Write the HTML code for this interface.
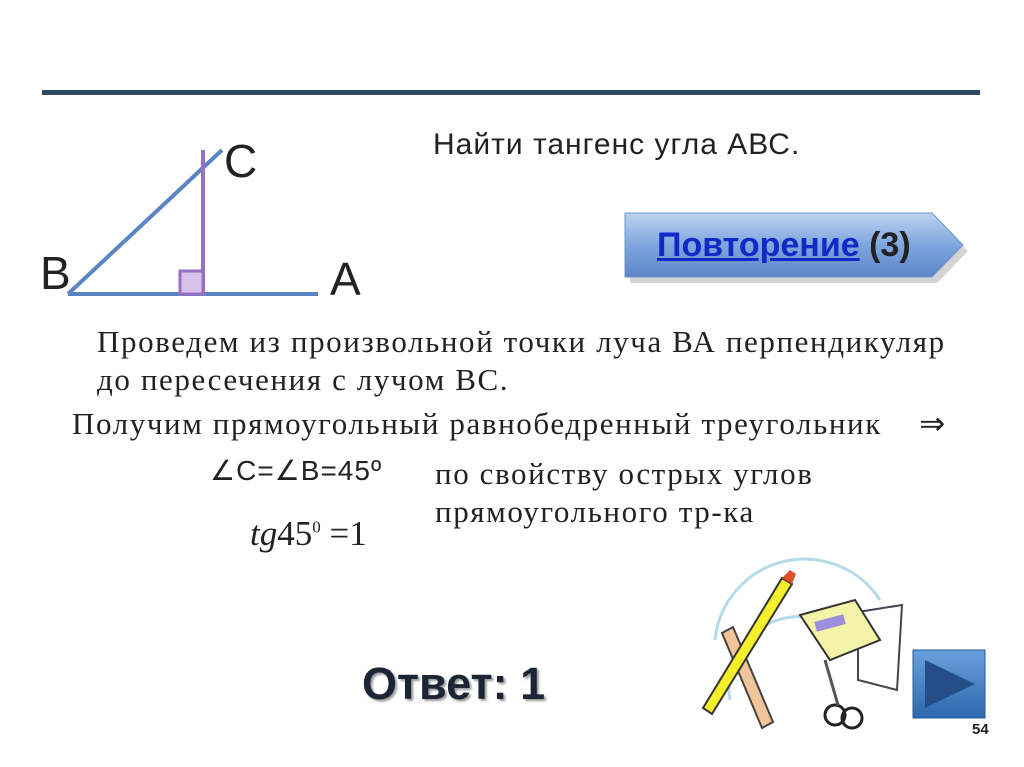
<!DOCTYPE html>
<html><head><meta charset="utf-8"><style>
body{margin:0;width:1024px;height:767px;background:#fff;position:relative;overflow:hidden;font-family:"Liberation Sans",sans-serif}
.a{position:absolute;white-space:nowrap}
.s{font-family:"Liberation Serif",serif;font-size:31px;letter-spacing:1.6px;color:#222}
</style></head><body>
<div class="a" style="left:42px;top:90px;width:938px;height:5px;background:#2f4866"></div>
<svg class="a" style="left:0;top:0" width="1024" height="767">
<line x1="68" y1="294" x2="222" y2="150" stroke="#5b84c4" stroke-width="4"/>
<line x1="68" y1="294" x2="318" y2="294" stroke="#5b84c4" stroke-width="4"/>
<line x1="203" y1="150" x2="203" y2="294" stroke="#9a6fc0" stroke-width="4"/>
<rect x="180" y="271" width="23" height="23" fill="#d5c3ea" stroke="#9a6fc0" stroke-width="3"/>
<defs><linearGradient id="g" x1="0" y1="0" x2="0" y2="1"><stop offset="0" stop-color="#bcd3f0"/><stop offset="0.5" stop-color="#7fa6dd"/><stop offset="1" stop-color="#5a86c8"/></linearGradient>
<linearGradient id="p" x1="0" y1="0" x2="0" y2="1"><stop offset="0" stop-color="#6aa0dc"/><stop offset="1" stop-color="#2d67ad"/></linearGradient></defs>
<polygon points="628,216 935,216 966,248 935,280 628,280" fill="#aaa" opacity="0.5" transform="translate(2,3)"/>
<polygon points="625,213 932,213 963,245 932,277 625,277" fill="url(#g)" stroke="#6f95cc"/>
<!-- clipart -->
<path d="M715,640 A90,90 0 0 1 880,600" fill="none" stroke="#b6dbe8" stroke-width="3"/>
<path d="M730,700 A70,70 0 0 1 820,620" fill="none" stroke="#b6dbe8" stroke-width="3"/>
<polygon points="858,612 902,605 897,690 858,680" fill="#fff" stroke="#445" stroke-width="2"/>
<polygon points="800,615 855,600 880,640 830,660" fill="#f4f4a8" stroke="#333" stroke-width="2"/>
<rect x="815" y="618" width="30" height="10" fill="#9a8fd8" transform="rotate(-15 830 623)"/>
<polygon points="722,633 733,627 773,722 762,728" fill="#f2c49a" stroke="#444" stroke-width="2"/>
<polygon points="703,708 782,578 792,584 712,714" fill="#f5f02a" stroke="#333" stroke-width="2"/>
<polygon points="782,578 790,570 796,574 792,584" fill="#e0502a"/>
<circle cx="835" cy="715" r="10" fill="none" stroke="#222" stroke-width="3"/>
<circle cx="852" cy="718" r="10" fill="none" stroke="#222" stroke-width="3"/>
<line x1="838" y1="705" x2="825" y2="660" stroke="#555" stroke-width="3"/>
<rect x="913" y="650" width="72" height="68" fill="url(#p)" stroke="#2a5a98"/>
<polygon points="925,660 975,684 925,708" fill="#234f86"/>
</svg>
<div class="a" style="left:224px;top:134px;font-size:46px;color:#222">C</div>
<div class="a" style="left:40px;top:246px;font-size:46px;color:#222">B</div>
<div class="a" style="left:330px;top:252px;font-size:46px;color:#222">A</div>
<div class="a" style="left:433px;top:128px;font-size:30px;letter-spacing:1px;color:#222">Найти тангенс угла АВС.</div>
<div class="a" style="left:657px;top:226px;font-size:34px;font-weight:bold;color:#222"><span style="color:#1428c8;text-decoration:underline">Повторение</span> (3)</div>
<div class="a s" style="left:97px;top:324px">Проведем из произвольной точки луча ВА перпендикуляр</div>
<div class="a s" style="left:97px;top:362px">до пересечения с лучом ВС.</div>
<div class="a s" style="left:72px;top:406px">Получим прямоугольный равнобедренный треугольник &nbsp;&nbsp;&nbsp;⇒</div>
<div class="a" style="left:210px;top:454px;font-size:28px;letter-spacing:1px;color:#222">∠C=∠B=45º</div>
<div class="a s" style="left:435px;top:456px">по свойству острых углов</div>
<div class="a s" style="left:435px;top:494px">прямоугольного тр-ка</div>
<div class="a" style="left:250px;top:514px;font-family:'Liberation Serif',serif;font-size:35px;color:#222"><i>tg</i>45<sup style="font-size:17px">0</sup> =1</div>
<div class="a" style="left:362px;top:658px;font-size:45px;font-weight:bold;color:#1c2535;text-shadow:2px 2px 2px #999">Ответ: 1</div>
<div class="a" style="left:972px;top:721px;font-size:15px;font-weight:bold;color:#222">54</div>
</body></html>
